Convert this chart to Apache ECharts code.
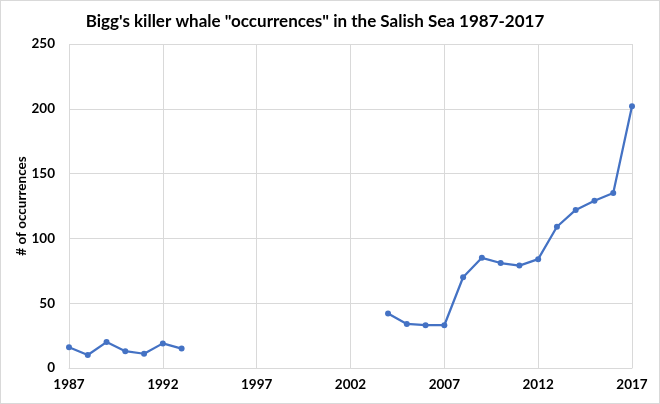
<!DOCTYPE html>
<html><head><meta charset="utf-8">
<script src="https://cdn.jsdelivr.net/npm/echarts@6/dist/echarts.min.js"></script>
<style>
html,body{margin:0;padding:0;background:#fff;}
#c{position:absolute;left:0;top:0;width:658px;height:402px;border:1px solid #d9d9d9;}
</style></head><body>
<div id="c"></div>
<script>
const years = [1987,1988,1989,1990,1991,1992,1993,1994,1995,1996,1997,1998,1999,2000,2001,2002,2003,2004,2005,2006,2007,2008,2009,2010,2011,2012,2013,2014,2015,2016,2017];
const occurrences = [16,10,20,13,11,19,15,null,null,null,null,null,null,null,null,null,null,42,34,33,33,70,85,81,79,84,109,122,129,135,202];
const xTicks = [1987,1992,1997,2002,2007,2012,2017];
const yTicks = [0,50,100,150,200,250];

const chart = echarts.init(document.getElementById('c'));
const font = 'Lato, "Open Sans", sans-serif';
chart.setOption({
  animation:false,
  title:{text:'Bigg\'s killer whale "occurrences" in the Salish Sea 1987-2017', left:309, textAlign:'center', top:7,
    textStyle:{fontFamily:font,fontSize:17,fontWeight:'bold',color:'#000'}},
  grid:{left:68,right:27,top:43,bottom:35},
  xAxis:{type:'value',min:xTicks[0],max:xTicks[xTicks.length-1],interval:5,
    axisLine:{show:true,lineStyle:{color:'#d9d9d9'}},axisTick:{show:false},
    splitLine:{show:true,lineStyle:{color:'#d9d9d9'}},
    axisLabel:{fontFamily:font,fontSize:13.5,fontWeight:'bold',color:'#000',margin:10,formatter:v=>String(v)}},
  yAxis:{type:'value',min:yTicks[0],max:yTicks[yTicks.length-1],interval:50,
    name:'# of occurrences',nameLocation:'middle',nameGap:40,nameRotate:90,nameMoveOverlap:false,
    nameTextStyle:{fontFamily:font,fontSize:13.5,fontWeight:'bold',color:'#000'},
    axisLine:{show:false},axisTick:{show:false},
    splitLine:{show:true,lineStyle:{color:'#d9d9d9'}},
    axisLabel:{fontFamily:font,fontSize:13.5,fontWeight:'bold',color:'#000',margin:14}},
  series:[{type:'line',data:years.map((y,i)=>[y,occurrences[i]===null?'-':occurrences[i]]),
    connectNulls:false,symbol:'circle',symbolSize:6,
    lineStyle:{color:'#4472C4',width:2.25},itemStyle:{color:'#4472C4'}}]
});
</script></body></html>
